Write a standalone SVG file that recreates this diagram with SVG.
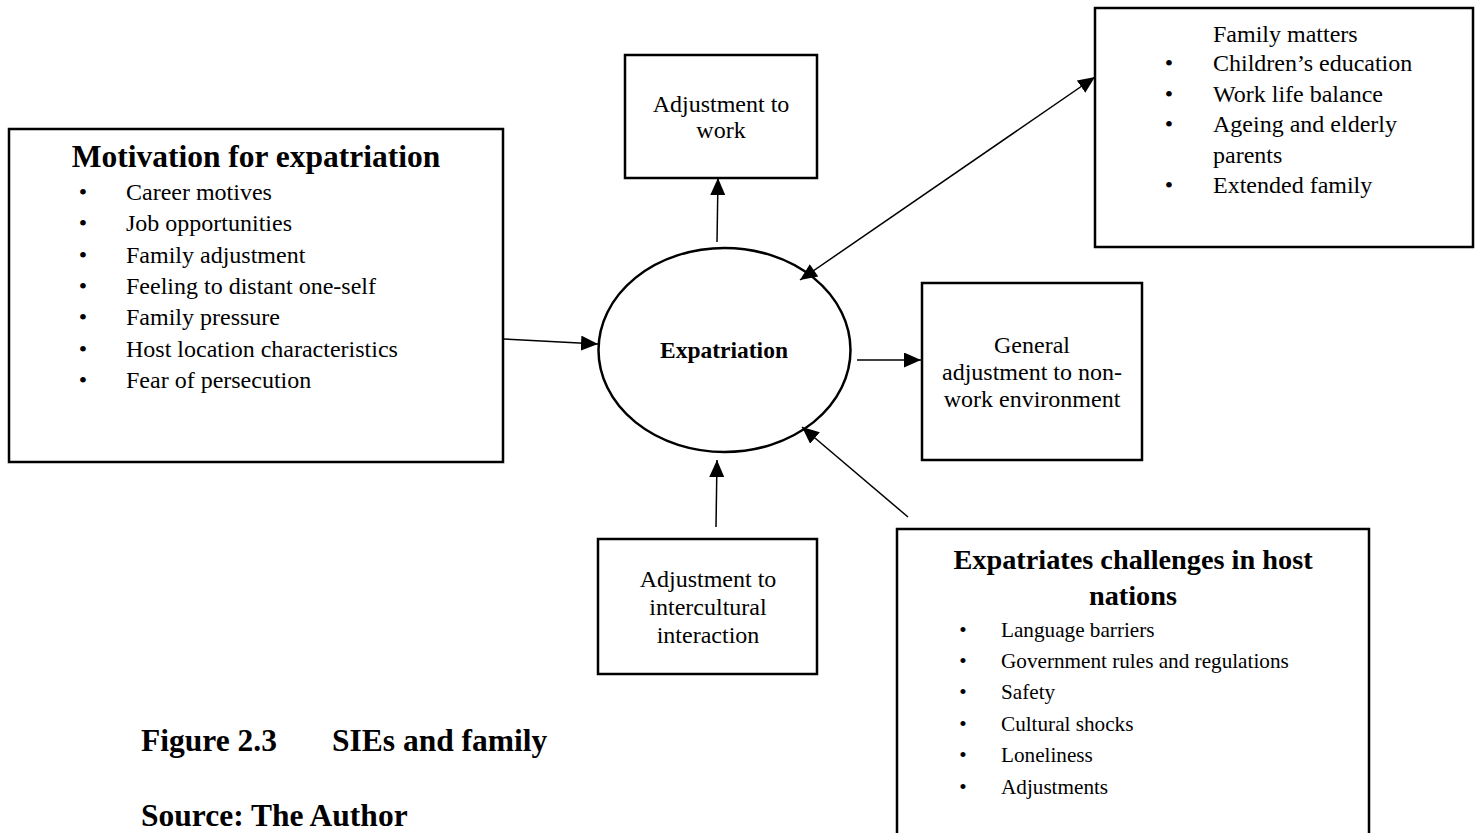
<svg xmlns="http://www.w3.org/2000/svg" width="1480" height="833" viewBox="0 0 1480 833">
<style>
.box{fill:#fff;stroke:#000;stroke-width:2.5}
.t{font-family:"Liberation Serif","Times New Roman",serif;font-size:24px;fill:#000}
.c{text-anchor:middle}
.b{font-weight:bold}
.conn{stroke:#000;stroke-width:1.5;fill:none}
</style>
<defs>
<marker id="ah" markerUnits="userSpaceOnUse" markerWidth="18" markerHeight="15" refX="17" refY="7.5" orient="auto">
<path d="M0,0 L17,7.5 L0,15 Z" fill="#000"/>
</marker>
<marker id="ahs" markerUnits="userSpaceOnUse" markerWidth="18" markerHeight="15" refX="0" refY="7.5" orient="auto">
<path d="M17,0 L0,7.5 L17,15 Z" fill="#000"/>
</marker>
</defs>
<rect width="1480" height="833" fill="#fff"/>

<g id="motivation">
<rect class="box" x="9" y="129" width="494" height="333"/>
<text class="t b c" x="256" y="167" style="font-size:31.5px">Motivation for expatriation</text>
<g class="t">
<text x="83" y="200" class="c">•</text><text x="126" y="200">Career motives</text>
<text x="83" y="231" class="c">•</text><text x="126" y="231">Job opportunities</text>
<text x="83" y="263" class="c">•</text><text x="126" y="263">Family adjustment</text>
<text x="83" y="294" class="c">•</text><text x="126" y="294">Feeling to distant one-self</text>
<text x="83" y="325" class="c">•</text><text x="126" y="325">Family pressure</text>
<text x="83" y="357" class="c">•</text><text x="126" y="357">Host location characteristics</text>
<text x="83" y="388" class="c">•</text><text x="126" y="388">Fear of persecution</text>
</g>
</g>

<g id="work">
<rect class="box" x="625" y="55" width="192" height="123"/>
<text class="t c" x="721" y="112">Adjustment to</text>
<text class="t c" x="721" y="138">work</text>
</g>

<g id="expatriation">
<ellipse cx="724.5" cy="350" rx="126" ry="102" fill="#fff" stroke="#000" stroke-width="2.5"/>
<text class="t b c" x="724" y="358" style="font-size:23.5px">Expatriation</text>
</g>

<g id="family">
<rect class="box" x="1095" y="8" width="378" height="239"/>
<g class="t">
<text x="1213" y="42">Family matters</text>
<text x="1169" y="71" class="c">•</text><text x="1213" y="71">Children’s education</text>
<text x="1169" y="102" class="c">•</text><text x="1213" y="102">Work life balance</text>
<text x="1169" y="132" class="c">•</text><text x="1213" y="132">Ageing and elderly</text>
<text x="1213" y="163">parents</text>
<text x="1169" y="193" class="c">•</text><text x="1213" y="193">Extended family</text>
</g>
</g>

<g id="general">
<rect class="box" x="922" y="283" width="220" height="177"/>
<text class="t c" x="1032" y="353">General</text>
<text class="t c" x="1032" y="380">adjustment to non-</text>
<text class="t c" x="1032" y="407">work environment</text>
</g>

<g id="intercultural">
<rect class="box" x="598" y="539" width="219" height="135"/>
<text class="t c" x="708" y="587">Adjustment to</text>
<text class="t c" x="708" y="615">intercultural</text>
<text class="t c" x="708" y="643">interaction</text>
</g>

<g id="challenges">
<rect class="box" x="897" y="529" width="472" height="320"/>
<text class="t b c" x="1133" y="569" style="font-size:28.3px">Expatriates challenges in host</text>
<text class="t b c" x="1133" y="605" style="font-size:28.3px">nations</text>
<g class="t" style="font-size:21.2px">
<text x="963" y="637" class="c">•</text><text x="1001" y="637">Language barriers</text>
<text x="963" y="668" class="c">•</text><text x="1001" y="668">Government rules and regulations</text>
<text x="963" y="699" class="c">•</text><text x="1001" y="699">Safety</text>
<text x="963" y="731" class="c">•</text><text x="1001" y="731">Cultural shocks</text>
<text x="963" y="762" class="c">•</text><text x="1001" y="762">Loneliness</text>
<text x="963" y="794" class="c">•</text><text x="1001" y="794">Adjustments</text>
</g>
</g>

<g id="caption">
<text class="t b" x="141" y="751" style="font-size:31.5px">Figure 2.3</text>
<text class="t b" x="332" y="751" style="font-size:31.5px">SIEs and family</text>
<text class="t b" x="141" y="826" style="font-size:31.5px">Source: The Author</text>
</g>

<g id="connectors">
<line class="conn" x1="503" y1="339" x2="598" y2="344" marker-end="url(#ah)"/>
<line class="conn" x1="717" y1="242" x2="718" y2="178" marker-end="url(#ah)"/>
<line class="conn" x1="857" y1="360" x2="921" y2="360" marker-end="url(#ah)"/>
<line class="conn" x1="716" y1="527" x2="717" y2="460" marker-end="url(#ah)"/>
<line class="conn" x1="908" y1="517" x2="802" y2="427" marker-end="url(#ah)"/>
<line class="conn" x1="800" y1="280" x2="1095" y2="77" marker-start="url(#ahs)" marker-end="url(#ah)"/>
</g>
</svg>
